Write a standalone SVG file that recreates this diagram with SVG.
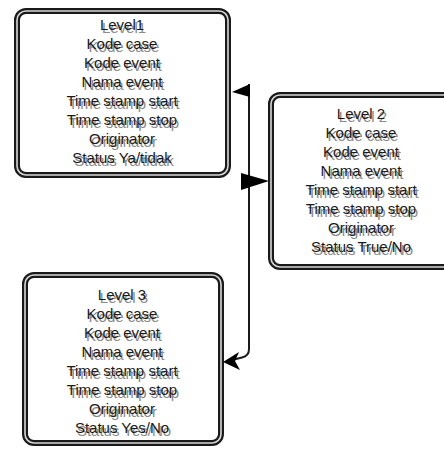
<svg xmlns="http://www.w3.org/2000/svg" width="444" height="451" viewBox="0 0 444 451">
  <style>
    .frame { fill: #ffffff; stroke: #1a1a1a; stroke-width: 6; }
    .frame-gap { fill: none; stroke: #d8d8d8; stroke-width: 1.6; }
    .txt { font-family: "Liberation Sans", Arial, sans-serif; font-size: 15px; text-anchor: middle; fill: #1a1a1a; }
    .shadow { font-family: "Liberation Sans", Arial, sans-serif; font-size: 15px; text-anchor: middle; fill: #8a8a8a; }
    .line { fill: none; stroke: #1a1a1a; stroke-width: 2; }
    .head { fill: #000000; stroke: none; }
  </style>
  <rect x="0" y="0" width="444" height="451" fill="#ffffff"/>

  <g id="level1">
    <rect class="frame" x="17" y="11" width="211" height="164" rx="9"/>
    <rect class="frame-gap" x="17" y="11" width="211" height="164" rx="9"/>
    <g transform="translate(2,3)">
      <text class="shadow" x="122" y="30">Level1</text>
      <text class="shadow" x="122" y="49">Kode case</text>
      <text class="shadow" x="122" y="68">Kode event</text>
      <text class="shadow" x="122" y="87">Nama event</text>
      <text class="shadow" x="122" y="106">Time stamp start</text>
      <text class="shadow" x="122" y="125">Time stamp stop</text>
      <text class="shadow" x="122" y="144">Originator</text>
      <text class="shadow" x="122" y="163">Status Ya/tidak</text>
    </g>
    <text class="txt" x="122" y="30">Level1</text>
    <text class="txt" x="122" y="49">Kode case</text>
    <text class="txt" x="122" y="68">Kode event</text>
    <text class="txt" x="122" y="87">Nama event</text>
    <text class="txt" x="122" y="106">Time stamp start</text>
    <text class="txt" x="122" y="125">Time stamp stop</text>
    <text class="txt" x="122" y="144">Originator</text>
    <text class="txt" x="122" y="163">Status Ya/tidak</text>
  </g>

  <g id="level2">
    <rect class="frame" x="271" y="95" width="182" height="172" rx="9"/>
    <rect class="frame-gap" x="271" y="95" width="182" height="172" rx="9"/>
    <g transform="translate(2,3)">
      <text class="shadow" x="361" y="119">Level 2</text>
      <text class="shadow" x="361" y="138">Kode case</text>
      <text class="shadow" x="361" y="157">Kode event</text>
      <text class="shadow" x="361" y="176">Nama event</text>
      <text class="shadow" x="361" y="195">Time stamp start</text>
      <text class="shadow" x="361" y="214">Time stamp stop</text>
      <text class="shadow" x="361" y="233">Originator</text>
      <text class="shadow" x="361" y="252">Status True/No</text>
    </g>
    <text class="txt" x="361" y="119">Level 2</text>
    <text class="txt" x="361" y="138">Kode case</text>
    <text class="txt" x="361" y="157">Kode event</text>
    <text class="txt" x="361" y="176">Nama event</text>
    <text class="txt" x="361" y="195">Time stamp start</text>
    <text class="txt" x="361" y="214">Time stamp stop</text>
    <text class="txt" x="361" y="233">Originator</text>
    <text class="txt" x="361" y="252">Status True/No</text>
  </g>

  <g id="level3">
    <rect class="frame" x="25" y="275" width="196" height="168" rx="9"/>
    <rect class="frame-gap" x="25" y="275" width="196" height="168" rx="9"/>
    <g transform="translate(2,3)">
      <text class="shadow" x="122" y="300">Level 3</text>
      <text class="shadow" x="122" y="319">Kode case</text>
      <text class="shadow" x="122" y="338">Kode event</text>
      <text class="shadow" x="122" y="357">Nama event</text>
      <text class="shadow" x="122" y="376">Time stamp start</text>
      <text class="shadow" x="122" y="395">Time stamp stop</text>
      <text class="shadow" x="122" y="414">Originator</text>
      <text class="shadow" x="122" y="433">Status Yes/No</text>
    </g>
    <text class="txt" x="122" y="300">Level 3</text>
    <text class="txt" x="122" y="319">Kode case</text>
    <text class="txt" x="122" y="338">Kode event</text>
    <text class="txt" x="122" y="357">Nama event</text>
    <text class="txt" x="122" y="376">Time stamp start</text>
    <text class="txt" x="122" y="395">Time stamp stop</text>
    <text class="txt" x="122" y="414">Originator</text>
    <text class="txt" x="122" y="433">Status Yes/No</text>
  </g>

  <g id="connectors">
    <path class="line" d="M249 84 V349 Q249 356 242 357.5 L232 360"/>
    <polygon class="head" points="232,92 250,84 250,97"/>
    <polygon class="head" points="269,181 241,173 241,190"/>
    <polygon class="head" points="223,362 239,352 235,361 240,370"/>
  </g>
</svg>
